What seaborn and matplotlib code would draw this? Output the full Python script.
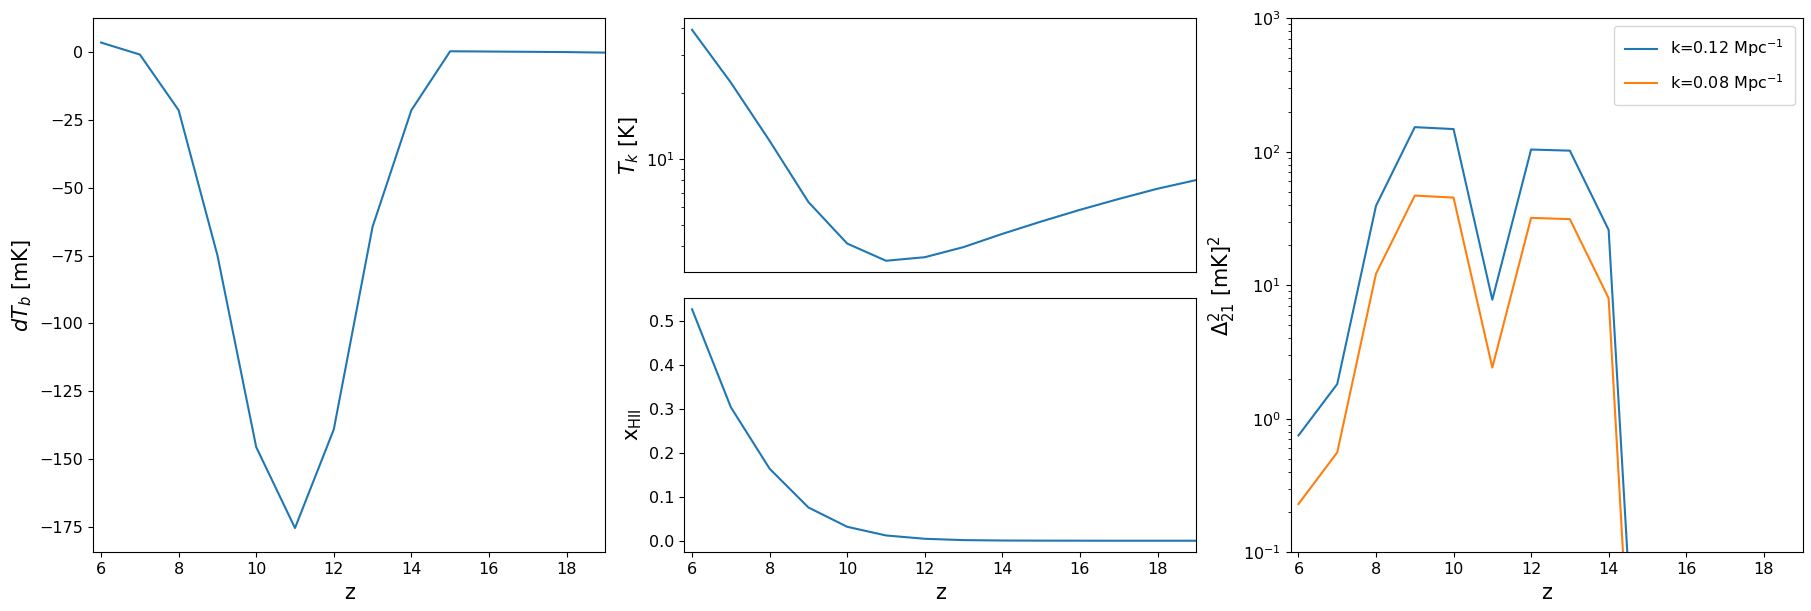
import numpy as np
import pandas as pd
import matplotlib
matplotlib.use("Agg")
import matplotlib.pyplot as plt
import seaborn as sns

# ---- data ----
z = [6, 7, 8, 9, 10, 11, 12, 13, 14, 15, 16, 17, 18, 19]
dTb = [3.4, -1.0, -21.5, -74.9, -145.5, -175.3, -139.0, -64.4, -21.5, 0.2, 0.1, 0.0, -0.1, -0.3]
Tk = [39.1, 22.4, 12.1, 6.34, 4.09, 3.41, 3.54, 3.94, 4.53, 5.16, 5.84, 6.55, 7.3, 8.0]
xHII = [0.527, 0.304, 0.164, 0.0758, 0.0318, 0.0121, 0.0045, 0.0015, 0.0006, 0.0003,
        0.0002, 0.0001, 0.0001, 0.0001]

z_ps = [6, 7, 8, 9, 10, 11, 12, 13, 14, 15]
ps_k012 = [0.75, 1.82, 39.4, 153.0, 148.0, 7.8, 104.0, 102.0, 26.0, 2.5e-4]
ps_k008 = [0.23, 0.56, 12.2, 47.0, 45.4, 2.42, 32.0, 31.3, 8.0, 5.7e-5]
labels_ps = [r"k=0.12 Mpc$^{-1}$", r"k=0.08 Mpc$^{-1}$"]

plt.rcParams["font.family"] = ["DejaVu Sans"]
TICK = 11.5
LAB = 15

W, H = 1811, 611
fig = plt.figure(figsize=(W / 100, H / 100), dpi=100)

def frac(x0, y0, x1, y1):
    return [x0 / W, 1 - y1 / H, (x1 - x0) / W, (y1 - y0) / H]

ax_dtb = fig.add_axes(frac(93.3, 18.3, 605.3, 552.3))
ax_tk = fig.add_axes(frac(684.3, 18.3, 1196.3, 272.3))
ax_x = fig.add_axes(frac(684.3, 297.7, 1196.3, 552.3))
ax_ps = fig.add_axes(frac(1290.7, 18.3, 1802.5, 552.3))

blue = sns.color_palette("tab10")[0]
orange = sns.color_palette("tab10")[1]

sns.lineplot(x=z, y=dTb, ax=ax_dtb, color=blue)
ax_dtb.set_ylabel(r"$dT_b$ [mK]", fontsize=LAB)
ax_dtb.set_xlabel("z", fontsize=LAB)

sns.lineplot(x=z, y=Tk, ax=ax_tk, color=blue)
ax_tk.set_yscale("log")
ax_tk.set_ylabel(r"$T_k$ [K]", fontsize=LAB)
ax_tk.set_xticks([])
ax_tk.set_xlabel("")

sns.lineplot(x=z, y=xHII, ax=ax_x, color=blue)
ax_x.set_ylabel(r"x$_{\rm HII}$", fontsize=LAB)
ax_x.set_xlabel("z", fontsize=LAB)

df_ps = pd.DataFrame({
    "z": z_ps * 2,
    "ps": ps_k012 + ps_k008,
    "k": [labels_ps[0]] * len(z_ps) + [labels_ps[1]] * len(z_ps),
})
sns.lineplot(data=df_ps, x="z", y="ps", hue="k", palette=[blue, orange], ax=ax_ps)
ax_ps.set_yscale("log")
ax_ps.set_ylim(0.1, 1000)
ax_ps.set_ylabel(r"$\Delta_{21}^2$ [mK]$^2$", fontsize=LAB)
ax_ps.set_xlabel("z", fontsize=LAB)
ax_ps.legend(loc="upper right", fontsize=TICK, borderpad=0.7, labelspacing=0.8)

for ax in [ax_dtb, ax_tk, ax_x, ax_ps]:
    ax.set_xlim(5.8, 19)
    ax.tick_params(labelsize=TICK)
for ax in [ax_dtb, ax_x, ax_ps]:
    ax.set_xticks([6, 8, 10, 12, 14, 16, 18])

fig.savefig("out.png", dpi=100)
